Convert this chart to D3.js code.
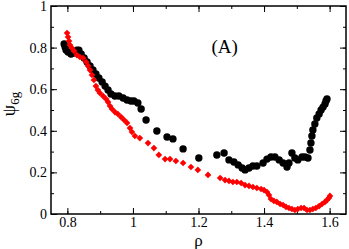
<!DOCTYPE html>
<html>
<head>
<meta charset="utf-8">
<script src="https://cdn.jsdelivr.net/npm/d3@7"></script>
<style>
  html, body { margin: 0; padding: 0; background: #fff; }
  svg { display: block; }
  .axis line { stroke: #000; stroke-width: 1; }
  .axis path { display: none; }
</style>
</head>
<body>
<script>
// black circles
var blackX = [0.790, 0.793, 0.796, 0.802, 0.811, 0.820, 0.829, 0.835, 0.842, 0.851,
  0.860, 0.869, 0.878, 0.887, 0.896, 0.906, 0.915, 0.924, 0.933, 0.945,
  0.957, 0.970, 0.982, 0.994, 1.003, 1.015, 1.025, 1.040, 1.073, 1.104,
  1.122, 1.153, 1.201, 1.256, 1.278, 1.293, 1.308, 1.321, 1.333, 1.342,
  1.354, 1.366, 1.378, 1.397, 1.409, 1.421, 1.433, 1.446, 1.458, 1.470,
  1.476, 1.485, 1.494, 1.503, 1.516, 1.525, 1.534, 1.540, 1.543, 1.546,
  1.549, 1.555, 1.561, 1.568, 1.574, 1.580, 1.586, 1.589, 1.592];
var blackY = [0.817, 0.803, 0.788, 0.779, 0.769, 0.774, 0.788, 0.788, 0.769, 0.750,
  0.731, 0.712, 0.692, 0.673, 0.654, 0.635, 0.615, 0.596, 0.577, 0.567,
  0.567, 0.558, 0.548, 0.543, 0.543, 0.534, 0.505, 0.452, 0.399, 0.370,
  0.361, 0.313, 0.269, 0.284, 0.293, 0.260, 0.250, 0.236, 0.221, 0.212,
  0.221, 0.231, 0.231, 0.245, 0.264, 0.274, 0.274, 0.260, 0.245, 0.226,
  0.245, 0.293, 0.269, 0.260, 0.274, 0.274, 0.269, 0.308, 0.341, 0.375,
  0.404, 0.433, 0.462, 0.481, 0.500, 0.514, 0.529, 0.543, 0.553];

// red diamonds
var redX = [0.799, 0.802, 0.805, 0.808, 0.814, 0.820, 0.829, 0.838, 0.848, 0.857,
  0.863, 0.869, 0.875, 0.881, 0.887, 0.893, 0.899, 0.909, 0.918, 0.924,
  0.930, 0.936, 0.945, 0.954, 0.964, 0.973, 0.982, 0.991, 0.997, 1.006,
  1.021, 1.046, 1.064, 1.079, 1.098, 1.113, 1.131, 1.153, 1.177, 1.198,
  1.229, 1.266, 1.281, 1.293, 1.305, 1.317, 1.330, 1.342, 1.354, 1.366,
  1.378, 1.391, 1.400, 1.409, 1.415, 1.421, 1.430, 1.439, 1.449, 1.458,
  1.467, 1.476, 1.485, 1.494, 1.503, 1.513, 1.522, 1.531, 1.540, 1.549,
  1.558, 1.568, 1.577, 1.586, 1.592, 1.598, 1.601];
var redY = [0.870, 0.851, 0.832, 0.812, 0.798, 0.784, 0.764, 0.755, 0.750, 0.731,
  0.712, 0.692, 0.668, 0.644, 0.615, 0.596, 0.582, 0.567, 0.553, 0.538,
  0.519, 0.505, 0.490, 0.481, 0.466, 0.452, 0.438, 0.413, 0.394, 0.375,
  0.365, 0.341, 0.317, 0.284, 0.264, 0.264, 0.255, 0.245, 0.226, 0.212,
  0.188, 0.173, 0.163, 0.159, 0.154, 0.154, 0.149, 0.139, 0.135, 0.130,
  0.125, 0.120, 0.115, 0.106, 0.091, 0.072, 0.063, 0.058, 0.048, 0.043,
  0.034, 0.029, 0.024, 0.019, 0.024, 0.029, 0.029, 0.019, 0.019, 0.024,
  0.029, 0.038, 0.048, 0.058, 0.067, 0.077, 0.087];

var xTicks = [0.8, 1, 1.2, 1.4, 1.6];
var yTicks = [0, 0.2, 0.4, 0.6, 0.8, 1];

var serif = '"Liberation Serif", "DejaVu Serif", serif';

var width = 349, height = 249;
var margin = {top: 6, right: 3, bottom: 35, left: 51};
var w = width - margin.left - margin.right,
    h = height - margin.top - margin.bottom;

var svg = d3.select('body').append('svg')
  .attr('width', width)
  .attr('height', height)
  .attr('font-family', serif);

var g = svg.append('g')
  .attr('transform', 'translate(' + margin.left + ',' + margin.top + ')');

var x = d3.scaleLinear().domain([0.75, 1.65]).range([0, w]);
var y = d3.scaleLinear().domain([0, 1]).range([h, 0]);

var fmt = function(d) { return String(+d.toFixed(1)); };
var xMinor = d3.range(0.8, 1.65, 0.1).map(function(d) { return +d.toFixed(1); });
var yMinor = d3.range(0, 1.01, 0.1).map(function(d) { return +d.toFixed(1); });

function axisGroup(tr) {
  return g.append('g').attr('class', 'axis')
    .attr('transform', tr || null);
}
function styleAxis(sel) {
  sel.attr('font-family', serif).attr('font-size', 14);
  sel.selectAll('text').attr('fill', '#000');
}

/* ------- AXES (ticks inward on all four sides) ------- */
axisGroup('translate(0,' + h + ')')
  .call(d3.axisBottom(x).tickValues(xTicks).tickFormat(fmt).tickSize(-6).tickPadding(3))
  .call(styleAxis);
axisGroup('translate(0,' + h + ')')
  .call(d3.axisBottom(x).tickValues(xMinor).tickFormat('').tickSize(-3));
axisGroup()
  .call(d3.axisTop(x).tickValues(xTicks).tickFormat('').tickSize(-6));
axisGroup()
  .call(d3.axisTop(x).tickValues(xMinor).tickFormat('').tickSize(-3));

axisGroup()
  .call(d3.axisLeft(y).tickValues(yTicks).tickFormat(fmt).tickSize(-6).tickPadding(4))
  .call(styleAxis);
axisGroup()
  .call(d3.axisLeft(y).tickValues(yMinor).tickFormat('').tickSize(-3));
axisGroup('translate(' + w + ',0)')
  .call(d3.axisRight(y).tickValues(yTicks).tickFormat('').tickSize(-6));
axisGroup('translate(' + w + ',0)')
  .call(d3.axisRight(y).tickValues(yMinor).tickFormat('').tickSize(-3));

g.append('rect')
  .attr('width', w)
  .attr('height', h)
  .attr('fill', 'none')
  .attr('stroke', '#000')
  .attr('stroke-width', 1.5);

/* ------- DATA ------- */
var black = blackX.map(function(v, i) { return {x: v, y: blackY[i]}; });
var red = redX.map(function(v, i) { return {x: v, y: redY[i]}; });

g.append('g').selectAll('circle')
  .data(black)
  .enter().append('circle')
  .attr('cx', function(d) { return x(d.x); })
  .attr('cy', function(d) { return y(d.y); })
  .attr('r', 3.7)
  .attr('fill', '#000');

var diamond = d3.symbol().type(d3.symbolSquare).size(22);
g.append('g').selectAll('path')
  .data(red)
  .enter().append('path')
  .attr('d', diamond)
  .attr('transform', function(d) {
    return 'translate(' + x(d.x) + ',' + y(d.y) + ') rotate(45)';
  })
  .attr('fill', '#ff0000');

/* ------- LABELS ------- */
g.append('text')
  .attr('x', x(1.28))
  .attr('y', y(0.776))
  .attr('text-anchor', 'middle')
  .attr('font-size', 19)
  .text('(A)');

svg.append('text')
  .attr('x', margin.left + w / 2)
  .attr('y', 246)
  .attr('text-anchor', 'middle')
  .attr('font-size', 17)
  .text('ρ');

var yl = svg.append('text')
  .attr('transform', 'translate(15,' + (margin.top + h / 2 - 6) + ') rotate(-90)')
  .attr('text-anchor', 'middle')
  .attr('font-size', 18);
yl.append('tspan').text('ψ');
yl.append('tspan').attr('dy', 4).attr('font-size', 13).text('6g');
</script>
</body>
</html>
